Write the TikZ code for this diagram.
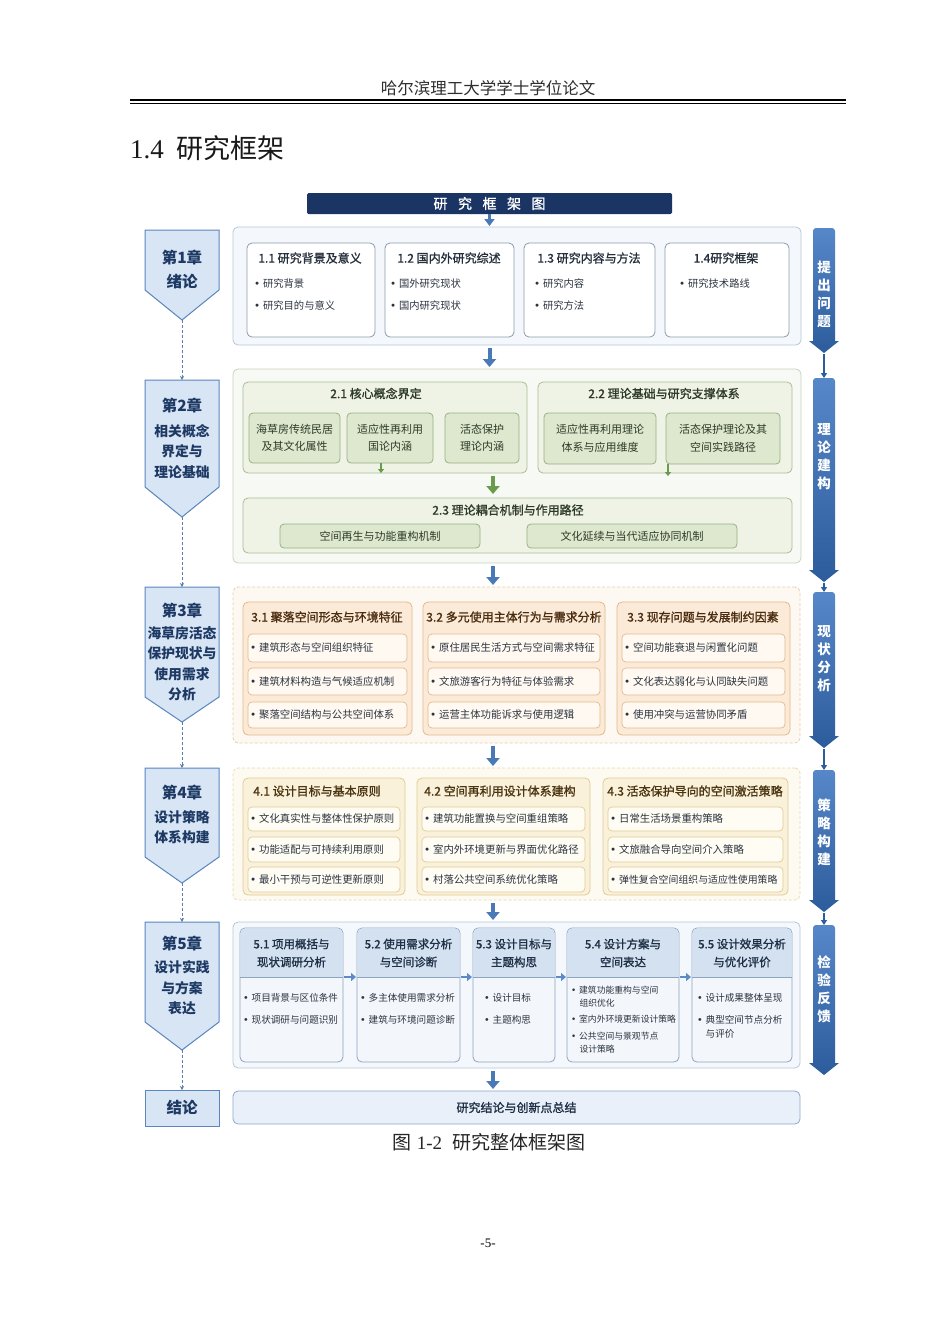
\documentclass[tikz,border=0pt]{standalone}
\usepackage{fontspec}
\setmainfont{Noto Sans CJK SC}
\newfontfamily\medf[FakeBold=1.2]{Noto Sans CJK SC}
\newfontfamily\djv{DejaVu Sans}
\newfontfamily\ser{Liberation Serif}
\usetikzlibrary{arrows.meta}

\definecolor{navy}{HTML}{1A3463}
\definecolor{chfill}{HTML}{D7E5F4}
\definecolor{chdraw}{HTML}{5A85BD}
\definecolor{chtext}{HTML}{1E3A64}
\definecolor{barL}{HTML}{5687C8}
\definecolor{barD}{HTML}{2D5C9C}
\definecolor{abl}{HTML}{4A79B8}
\definecolor{c1fill}{HTML}{F4F7FC}
\definecolor{c1draw}{HTML}{B7C7DB}
\definecolor{bx1draw}{HTML}{8E9BAD}
\definecolor{txt}{HTML}{2B3440}
\definecolor{ttl}{HTML}{26303D}
\definecolor{c2fill}{HTML}{F7F9F4}
\definecolor{c2draw}{HTML}{C9D4C0}
\definecolor{bx2fill}{HTML}{EEF3E5}
\definecolor{bx2draw}{HTML}{A8BE94}
\definecolor{sb2fill}{HTML}{DDE8CF}
\definecolor{sb2draw}{HTML}{98B282}
\definecolor{gtxt}{HTML}{2E3A27}
\definecolor{garr}{HTML}{6A9A4C}
\definecolor{c3fill}{HTML}{FDF8F2}
\definecolor{c3draw}{HTML}{EDCDAA}
\definecolor{bx3fill}{HTML}{FBEAD7}
\definecolor{bx3draw}{HTML}{E5B889}
\definecolor{it3fill}{HTML}{FFF9F2}
\definecolor{otxt}{HTML}{4A2C10}
\definecolor{c4fill}{HTML}{FDFAF1}
\definecolor{c4draw}{HTML}{E8DDB2}
\definecolor{bx4fill}{HTML}{FAF1DA}
\definecolor{bx4draw}{HTML}{E2CB96}
\definecolor{it4fill}{HTML}{FFFCF4}
\definecolor{ytxt}{HTML}{4A3510}
\definecolor{bx5fill}{HTML}{F3F6FA}
\definecolor{bx5draw}{HTML}{8EA5C2}
\definecolor{hd5}{HTML}{D3E1F1}
\definecolor{sarr}{HTML}{5B8BC8}
\definecolor{cbfill}{HTML}{E9F0F9}
\definecolor{cbdraw}{HTML}{8DA9CB}
\definecolor{dashc}{HTML}{5C7FAE}
\definecolor{h5txt}{HTML}{1F2F45}

\newcommand\fs[2]{\fontsize{#1}{#2}\selectfont}
\newcommand\bul{{\djv •}\hspace{3pt}}

\tikzset{
  every node/.style={inner sep=0pt, outer sep=0pt},
  chst/.style={draw=chdraw, fill=chfill, line width=1pt},
  chh/.style={font=\bfseries\fs{15.5}{18}, text=chtext},
  chb/.style={font=\bfseries\fs{13.8}{20.5}, text=chtext, align=center},
  bartxt/.style={font=\bfseries\fs{13.5}{18}, text=white, align=center},
  bconn/.style={draw=barD, line width=1.2pt, -{Triangle[width=6pt,length=5pt]}, shorten <=1pt},
  dconn/.style={draw=dashc, line width=0.8pt, dash pattern=on 3pt off 2pt, -{Stealth[width=4pt,length=4pt]}},
  barrow/.style={draw=abl, line width=4pt, -{Triangle[width=13pt,length=8pt]}, shorten <=3pt, shorten >=2pt},
  tarrow/.style={draw=abl, line width=2.5pt, -{Triangle[width=10pt,length=7pt]}, shorten >=1pt},
  cont1/.style={draw=c1draw, fill=c1fill, rounded corners=5pt, line width=0.8pt},
  box1/.style={draw=bx1draw, fill=white, rounded corners=5pt, line width=0.8pt},
  t1/.style={font=\medf\fs{12}{14}, text=ttl},
  b1/.style={font=\fs{10.3}{12}, text=txt, anchor=west},
  cont2/.style={draw=c2draw, fill=c2fill, rounded corners=5pt, line width=0.8pt},
  box2/.style={draw=bx2draw, fill=bx2fill, rounded corners=5pt, line width=0.8pt},
  sub2/.style={draw=sb2draw, fill=sb2fill, rounded corners=4pt, line width=0.8pt, font=\fs{11}{17.5}, text=gtxt, align=center},
  t2/.style={font=\medf\fs{12}{14}, text=gtxt},
  gsmall/.style={draw=garr, line width=1.2pt, -{Triangle[width=6pt,length=4pt]}},
  gbig/.style={draw=garr, line width=4pt, -{Triangle[width=13pt,length=8pt]}, shorten <=3pt, shorten >=4pt},
  cont3/.style={draw=c3draw, fill=c3fill, dash pattern=on 3pt off 2pt, rounded corners=5pt, line width=0.8pt},
  box3/.style={draw=bx3draw, fill=bx3fill, rounded corners=5pt, line width=0.8pt},
  itm3/.style={draw=bx3draw, fill=it3fill, rounded corners=4pt, line width=0.7pt},
  t3/.style={font=\medf\fs{12}{14}, text=otxt},
  cont4/.style={draw=c4draw, fill=c4fill, dash pattern=on 3pt off 2pt, rounded corners=5pt, line width=0.8pt},
  box4/.style={draw=bx4draw, fill=bx4fill, rounded corners=5pt, line width=0.8pt},
  itm4/.style={draw=bx4draw, fill=it4fill, rounded corners=4pt, line width=0.7pt},
  t4/.style={font=\medf\fs{12}{14}, text=ytxt},
  itxt/.style={font=\fs{10.4}{12}, text=txt},
  box5/.style={draw=bx5draw, fill=bx5fill, rounded corners=5pt, line width=0.8pt},
  t5/.style={font=\medf\fs{11.5}{18}, text=h5txt, align=center},
  i5/.style={font=\fs{9.6}{12}, text=txt, anchor=west},
  i5s/.style={font=\fs{8.8}{12}, text=txt, anchor=west},
  sarrow/.style={draw=sarr, line width=2.6pt, -{Triangle[width=8pt,length=5pt]}, shorten <=1pt, shorten >=1pt},
}

% box node from corners: [style]{x1}{y1}{x2}{y2}{name}{text}
\newcommand\bx[7][]{\node[#1, minimum width={(#4)-(#2)}, minimum height={(#5)-(#3)}] (#6) at ({((#2)+(#4))/2},{((#3)+(#5))/2}) {#7};}
% item box with bullet text
\newcommand\itm[7][]{\bx[#1]{#2}{#3}{#4}{#5}{#6}{}\node[itxt, anchor=west] (#6t) at ({(#2)+2},{((#3)+(#5))/2}) {\bul #7};}
% chapter pentagon: name, top, shoulder, tip
\newcommand\chap[4]{\draw[chst] (145,#2) -- (219,#2) -- (219,#3) -- (182,#4) -- (145,#3) -- cycle;
  \coordinate (#1t) at (182,#2); \coordinate (#1b) at (182,#4);}
% right bar: name, top, tip
\newcommand\rbar[3]{\shade[top color=barL, bottom color=barD] (813,{#3-12}) [rounded corners=3pt] -- (813,#2) -- (835,#2) [sharp corners] -- (835,{#3-12}) -- (839,{#3-12}) -- (824,#3) -- (809,{#3-12}) -- cycle;
  \coordinate (#1t) at (824,#2); \coordinate (#1b) at (824,#3);}
% chapter-5 box: x1, x2, name
\newcommand\fivebox[3]{\bx[box5]{#1}{928}{#2}{1062}{#3}{}%
  \fill[hd5] ({#1+0.4},977) [rounded corners=4.6pt] -- ({#1+0.4},928.4) -- ({#2-0.4},928.4) [sharp corners] -- ({#2-0.4},977) -- cycle;
  \draw[bx5draw, line width=0.6pt] (#1,977) -- (#2,977);}

\begin{document}
\begin{tikzpicture}[x=1pt,y=-1pt]
\useasboundingbox (0,0) rectangle (950,1342);
\fill[white] (0,0) rectangle (950,1342);

% ---------- page header ----------
\node[font=\fs{16.5}{18}, text=black!82] (phead) at (488,88.5) {哈尔滨理工大学学士学位论文};
\draw[line width=2.4pt] (130,100.2) -- (846,100.2);
\draw[line width=0.8pt] (130,103.8) -- (846,103.8);
\node[anchor=west, font=\fs{27}{30}, text=black!90] (sec) at (130,148) {{\ser 1.4}\hspace{13pt}研究框架};

% ---------- title ----------
\node[fill=navy, rounded corners=1.5pt, minimum width=365pt, minimum height=21pt, text=white, font=\medf\fs{14}{16}] (title) at (489.5,203.5) {研\hspace{10.5pt}究\hspace{10.5pt}框\hspace{10.5pt}架\hspace{10.5pt}图};
\coordinate (ax) at (493,0);

% ---------- chapter column ----------
\chap{c1}{230}{290}{320}
\chap{c2}{380}{487}{517}
\chap{c3}{587}{697}{722}
\chap{c4}{768}{857}{883}
\chap{c5}{922}{1022}{1050}
\bx[chst]{145}{1090}{219}{1126}{c6}{\bfseries\fs{15.5}{18}\color{chtext}结论}

\node[chh] (c1h) at (182,258) {第1章};
\node[chh] (c1x) at (182,282) {绪论};
\node[chh] (c2h) at (182,406) {第2章};
\node[chb] (c2x) at (182,451.5) {相关概念\\界定与\\理论基础};
\node[chh] (c3h) at (182,611) {第3章};
\node[chb] (c3x) at (182,663.5) {海草房活态\\保护现状与\\使用需求\\分析};
\node[chh] (c4h) at (182,793) {第4章};
\node[chb] (c4x) at (182,827) {设计策略\\体系构建};
\node[chh] (c5h) at (182,944) {第5章};
\node[chb] (c5x) at (182,988) {设计实践\\与方案\\表达};

\draw[dconn] (c1b) -- (c2t);
\draw[dconn] (c2b) -- (c3t);
\draw[dconn] (c3b) -- (c4t);
\draw[dconn] (c4b) -- (c5t);
\draw[dconn] (c5b) -- (c6.north);

% ---------- right bars ----------
\rbar{rb1}{228}{353}
\rbar{rb2}{378}{582}
\rbar{rb3}{592}{748}
\rbar{rb4}{770}{912}
\rbar{rb5}{925}{1075}
\node[bartxt] (rt1) at (824,294) {提\\出\\问\\题};
\node[bartxt] (rt2) at (824,457) {理\\论\\建\\构};
\node[bartxt] (rt3) at (824,659) {现\\状\\分\\析};
\node[bartxt] (rt4) at (824,832) {策\\略\\构\\建};
\node[bartxt] (rt5) at (824,989) {检\\验\\反\\馈};
\draw[bconn] (rb1b) -- (rb2t);
\draw[bconn] (rb2b) -- (rb3t);
\draw[bconn] (rb3b) -- (rb4t);
\draw[bconn] (rb4b) -- (rb5t);

% ---------- row 1 ----------
\bx[cont1]{233}{227}{801}{345}{r1}{}
\bx[box1]{247}{243}{375}{337}{b11}{}
\bx[box1]{385}{243}{514}{337}{b12}{}
\bx[box1]{524}{243}{655}{337}{b13}{}
\bx[box1]{665}{243}{789}{337}{b14}{}
\node[t1] (b11h) at (310,258) {1.1 研究背景及意义};
\node[t1] (b12h) at (449,258) {1.2 国内外研究综述};
\node[t1] (b13h) at (589,258) {1.3 研究内容与方法};
\node[t1] (b14h) at (726,258) {1.4研究框架};
\node[b1] (b11a) at (254,284) {\bul 研究背景};
\node[b1] (b11b) at (254,306) {\bul 研究目的与意义};
\node[b1] (b12a) at (390,284) {\bul 国外研究现状};
\node[b1] (b12b) at (390,306) {\bul 国内研究现状};
\node[b1] (b13a) at (534,284) {\bul 研究内容};
\node[b1] (b13b) at (534,306) {\bul 研究方法};
\node[b1] (b14a) at (679,284) {\bul 研究技术路线};
\draw[tarrow] (title.south) -- (title.south |- r1.north);

% ---------- row 2 ----------
\bx[cont2]{233}{369}{801}{563}{r2}{}
\draw[barrow] (r1.south -| title.south) -- (r2.north -| title.south);
\bx[box2]{243}{382}{527}{473}{b21}{}
\bx[box2]{538}{382}{792}{473}{b22}{}
\node[t2] (b21h) at (376,393.5) {2.1 核心概念界定};
\node[t2] (b22h) at (664,393.5) {2.2 理论基础与研究支撑体系};
\bx[sub2]{249}{413}{340}{463}{s211}{海草房传统民居\\及其文化属性}
\bx[sub2]{347}{413}{433}{463}{s212}{适应性再利用\\国论内涵}
\bx[sub2]{445}{413}{519}{463}{s213}{活态保护\\理论内涵}
\bx[sub2]{544}{413}{656}{464}{s221}{适应性再利用理论\\体系与应用维度}
\bx[sub2]{666}{413}{780}{464}{s222}{活态保护理论及其\\空间实践路径}
\coordinate (g1) at ([xshift=-9pt]s212.south);
\draw[gsmall] (g1) -- (g1 |- b21.south);
\coordinate (g2) at ([xshift=2pt]s222.south west);
\coordinate (g2e) at (668,476);
\draw[gsmall] (g2) -- (g2e);
\bx[box2]{243}{498}{792}{553}{b23}{}
\node[t2] (b23h) at (508,510) {2.3 理论耦合机制与作用路径};
\bx[sub2]{280}{524}{480}{548}{s231}{空间再生与功能重构机制}
\bx[sub2]{527}{524}{737}{548}{s232}{文化延续与当代适应协同机制}
\draw[gbig] (b21.south -| ax) -- (b23.north -| ax);

% ---------- row 3 ----------
\bx[cont3]{233}{587}{800}{743}{r3}{}
\draw[barrow] (r2.south -| ax) -- (r3.north -| ax);
\bx[box3]{243}{602}{412}{735}{b31}{}
\bx[box3]{423}{602}{605}{735}{b32}{}
\bx[box3]{617}{602}{790}{735}{b33}{}
\node[t3] (b31h) at (327,617) {3.1 聚落空间形态与环境特征};
\node[t3] (b32h) at (514,617) {3.2 多元使用主体行为与需求分析};
\node[t3] (b33h) at (703,617) {3.3 现存问题与发展制约因素};
\itm[itm3]{248}{634}{407}{662}{i31a}{建筑形态与空间组织特征}
\itm[itm3]{248}{668}{407}{695}{i31b}{建筑材料构造与气候适应机制}
\itm[itm3]{248}{702}{407}{728}{i31c}{聚落空间结构与公共空间体系}
\itm[itm3]{428}{634}{600}{662}{i32a}{原住居民生活方式与空间需求特征}
\itm[itm3]{428}{668}{600}{695}{i32b}{文旅游客行为特征与体验需求}
\itm[itm3]{428}{702}{600}{728}{i32c}{运营主体功能诉求与使用逻辑}
\itm[itm3]{622}{634}{785}{662}{i33a}{空间功能衰退与闲置化问题}
\itm[itm3]{622}{668}{785}{695}{i33b}{文化表达弱化与认同缺失问题}
\itm[itm3]{622}{702}{785}{728}{i33c}{使用冲突与运营协同矛盾}

% ---------- row 4 ----------
\bx[cont4]{233}{768}{800}{900}{r4}{}
\draw[barrow] (r3.south -| ax) -- (r4.north -| ax);
\bx[box4]{243}{778}{405}{895}{b41}{}
\bx[box4]{417}{778}{590}{895}{b42}{}
\bx[box4]{603}{778}{788}{895}{b43}{}
\node[t4] (b41h) at (317,791) {4.1 设计目标与基本原则};
\node[t4] (b42h) at (500,791) {4.2 空间再利用设计体系建构};
\node[t4] (b43h) at (695,791) {4.3 活态保护导向的空间激活策略};
\itm[itm4]{248}{807}{400}{831}{i41a}{文化真实性与整体性保护原则}
\itm[itm4]{248}{837}{400}{862}{i41b}{功能适配与可持续利用原则}
\itm[itm4]{248}{867}{400}{892}{i41c}{最小干预与可逆性更新原则}
\itm[itm4]{422}{807}{585}{831}{i42a}{建筑功能置换与空间重组策略}
\itm[itm4]{422}{837}{585}{862}{i42b}{室内外环境更新与界面优化路径}
\itm[itm4]{422}{867}{585}{892}{i42c}{村落公共空间系统优化策略}
\itm[itm4]{608}{807}{783}{831}{i43a}{日常生活场景重构策略}
\itm[itm4]{608}{837}{783}{862}{i43b}{文旅融合导向空间介入策略}
\itm[itm4]{608}{867}{783}{892}{i43c}{{\fs{9.9}{12}弹性复合空间组织与适应性使用策略}}

% ---------- row 5 ----------
\bx[cont1]{233}{922}{800}{1068}{r5}{}
\draw[barrow] (r4.south -| ax) -- (r5.north -| ax);
\fivebox{240}{343}{b51}
\fivebox{357}{460}{b52}
\fivebox{473}{555}{b53}
\fivebox{567}{679}{b54}
\fivebox{692}{792}{b55}
\node[t5] (b51h) at (291.5,953) {5.1 项用概括与\\现状调研分析};
\node[t5] (b52h) at (408.5,953) {5.2 使用需求分析\\与空间诊断};
\node[t5] (b53h) at (514,953) {5.3 设计目标与\\主题构思};
\node[t5] (b54h) at (623,953) {5.4 设计方案与\\空间表达};
\node[t5] (b55h) at (742,953) {5.5 设计效果分析\\与优化评价};
\coordinate (hy) at (0,977);
\draw[sarrow] (b51.east |- hy) -- (b52.west |- hy);
\draw[sarrow] (b52.east |- hy) -- (b53.west |- hy);
\draw[sarrow] (b53.east |- hy) -- (b54.west |- hy);
\draw[sarrow] (b54.east |- hy) -- (b55.west |- hy);
\node[i5] (b51a) at (243,998) {\bul 项目背景与区位条件};
\node[i5] (b51b) at (243,1020) {\bul 现状调研与问题识别};
\node[i5] (b52a) at (360,998) {\bul 多主体使用需求分析};
\node[i5] (b52b) at (360,1020) {\bul 建筑与环境问题诊断};
\node[i5] (b53a) at (484,998) {\bul 设计目标};
\node[i5] (b53b) at (484,1020) {\bul 主题构思};
\node[i5s] (b54a) at (571,990) {\bul 建筑功能重构与空间};
\node[i5s] (b54b) at (579.5,1003) {组织优化};
\node[i5s] (b54c) at (571,1019) {\bul 室内外环境更新设计策略};
\node[i5s] (b54d) at (571,1036) {\bul 公共空间与景观节点};
\node[i5s] (b54e) at (579.5,1049) {设计策略};
\node[i5] (b55a) at (697,998) {\bul 设计成果整体呈现};
\node[i5] (b55b) at (697,1020) {\bul 典型空间节点分析};
\node[i5] (b55c) at (705.7,1034) {与评价};

% ---------- conclusion ----------
\bx[draw=cbdraw, fill=cbfill, rounded corners=5pt, line width=0.8pt, font=\medf\fs{12}{14}, text=h5txt]{233}{1091}{800}{1124}{cb}{研究结论与创新点总结}
\draw[barrow] (r5.south -| ax) -- (cb.north -| ax);

% ---------- caption & page number ----------
\node[font=\fs{19}{21}, text=black!85] (cap) at (489,1142) {图\hspace{5pt}{\ser 1-2}\hspace{10pt}研究整体框架图};
\node[font=\ser\fs{13}{15}] (pg) at (488,1243) {-5-};
\end{tikzpicture}
\end{document}
